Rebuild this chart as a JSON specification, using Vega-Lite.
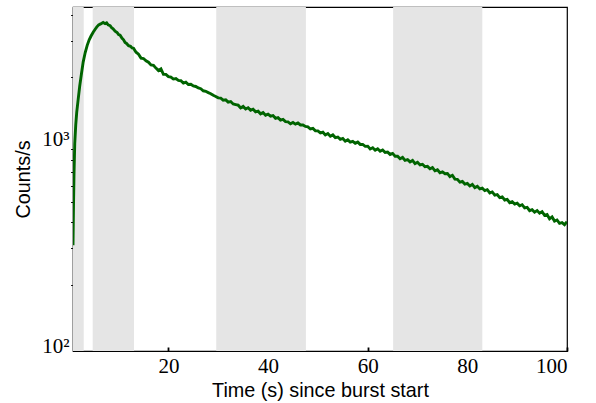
{
 "$schema": "https://vega.github.io/schema/vega-lite/v6.json",
 "width": 494, "height": 344,
 "autosize": {"type": "none"},
 "padding": {"left": 73, "top": 7, "right": 29, "bottom": 52},
 "background": "white",
 "config": {
  "view": {"stroke": "black", "strokeWidth": 1.2},
  "axis": {"grid": false, "domainColor": "black", "domainWidth": 1.2, "tickColor": "black", "labelColor": "black", "titleColor": "black"}
 },
 "datasets": {
  "bands": [
   {"start": 0, "end": 3.0},
   {"start": 4.8, "end": 13.1},
   {"start": 29.6, "end": 47.6},
   {"start": 65.1, "end": 83.0}
  ],
  "lc": [
   {"t":0.85,"c":310},{"t":0.95,"c":480},{"t":1.05,"c":680},{"t":1.2,"c":960},{"t":1.4,"c":1180},{"t":1.6,"c":1360},{"t":1.86,"c":1546},{"t":2.2,"c":1820},{"t":2.54,"c":2080},{"t":2.9,"c":2380},{"t":3.3,"c":2640},{"t":3.7,"c":2860},{"t":4.1,"c":3040},{"t":4.5,"c":3180},{"t":4.9,"c":3310},{"t":5.3,"c":3420},{"t":5.6,"c":3500},{"t":6.0,"c":3590},{"t":6.4,"c":3630},{"t":6.9,"c":3690},{"t":7.3,"c":3640},{"t":7.6,"c":3670},{"t":7.9,"c":3590},{"t":8.3,"c":3560},{"t":8.6,"c":3480},{"t":8.9,"c":3440},{"t":9.3,"c":3350},{"t":9.7,"c":3300},{"t":10.0,"c":3220},{"t":10.3,"c":3200},{"t":10.7,"c":3090},{"t":11.0,"c":3040},{"t":11.3,"c":2950},{"t":11.6,"c":2920},{"t":12.0,"c":2850},{"t":12.4,"c":2830},{"t":12.7,"c":2780},{"t":13.0,"c":2770},
   {"t":13.5,"c":2650},{"t":14.0,"c":2590},{"t":14.5,"c":2480},{"t":15.0,"c":2470},{"t":15.5,"c":2410},{"t":16.0,"c":2370},{"t":16.5,"c":2300},{"t":17.0,"c":2290},{"t":17.5,"c":2220},{"t":18.0,"c":2160},{"t":18.5,"c":2200},{"t":19.0,"c":2070},{"t":19.5,"c":2070},{"t":20.0,"c":2020},{"t":20.5,"c":2010},{"t":21.0,"c":1965},{"t":21.5,"c":1975},{"t":22.0,"c":1935},{"t":22.5,"c":1930},{"t":23.0,"c":1880},{"t":23.5,"c":1900},{"t":24.0,"c":1850},{"t":24.5,"c":1855},{"t":25.0,"c":1820},{"t":25.5,"c":1810},{"t":26.0,"c":1780},{"t":26.5,"c":1765},{"t":27.0,"c":1725},{"t":27.5,"c":1715},{"t":28.0,"c":1690},{"t":28.5,"c":1670},{"t":29.0,"c":1640},{"t":29.5,"c":1620},{"t":30.0,"c":1595},
   {"t":30.5,"c":1590},{"t":31.0,"c":1555},{"t":31.5,"c":1560},{"t":32.0,"c":1520},{"t":32.5,"c":1530},{"t":33.0,"c":1490},{"t":33.5,"c":1480},{"t":34.0,"c":1470},{"t":34.5,"c":1425},{"t":35.0,"c":1450},{"t":35.5,"c":1410},{"t":36.0,"c":1430},{"t":36.5,"c":1390},{"t":37.0,"c":1405},{"t":37.5,"c":1365},{"t":38.0,"c":1375},{"t":38.5,"c":1335},{"t":39.0,"c":1355},{"t":39.5,"c":1315},{"t":40.0,"c":1330},{"t":40.5,"c":1300},{"t":41.0,"c":1310},{"t":41.5,"c":1270},{"t":42.0,"c":1280},{"t":42.5,"c":1245},{"t":43.0,"c":1255},{"t":43.5,"c":1225},{"t":44.0,"c":1220},{"t":44.5,"c":1195},{"t":45.0,"c":1212},{"t":45.5,"c":1190},{"t":46.0,"c":1205},{"t":46.5,"c":1180},{"t":47.0,"c":1180},{"t":47.5,"c":1160},{"t":48.0,"c":1155},{"t":48.5,"c":1128},{"t":49.0,"c":1135},{"t":49.5,"c":1105},{"t":50.0,"c":1105},
   {"t":50.5,"c":1080},{"t":51.0,"c":1088},{"t":51.5,"c":1055},{"t":52.0,"c":1072},{"t":52.5,"c":1040},{"t":53.0,"c":1056},{"t":53.5,"c":1025},{"t":54.0,"c":1032},{"t":54.5,"c":1005},{"t":55.0,"c":1015},{"t":55.5,"c":985},{"t":56.0,"c":1000},{"t":56.5,"c":975},{"t":57.0,"c":984},{"t":57.5,"c":962},{"t":58.0,"c":975},{"t":58.5,"c":950},{"t":59.0,"c":950},{"t":59.5,"c":930},{"t":60.0,"c":932},{"t":60.5,"c":903},{"t":61.0,"c":915},{"t":61.5,"c":890},{"t":62.0,"c":905},{"t":62.5,"c":880},{"t":63.0,"c":893},{"t":63.5,"c":868},{"t":64.0,"c":872},{"t":64.5,"c":850},{"t":65.0,"c":860},{"t":65.5,"c":833},{"t":66.0,"c":834},{"t":66.5,"c":810},{"t":67.0,"c":822},{"t":67.5,"c":796},{"t":68.0,"c":802},{"t":68.5,"c":782},{"t":69.0,"c":795},{"t":69.5,"c":768},{"t":70.0,"c":779},
   {"t":70.5,"c":756},{"t":71.0,"c":762},{"t":71.5,"c":741},{"t":72.0,"c":744},{"t":72.5,"c":724},{"t":73.0,"c":734},{"t":73.5,"c":708},{"t":74.0,"c":716},{"t":74.5,"c":693},{"t":75.0,"c":700},{"t":75.5,"c":686},{"t":76.0,"c":688},{"t":76.5,"c":664},{"t":77.0,"c":674},{"t":77.5,"c":646},{"t":78.0,"c":644},{"t":78.5,"c":624},{"t":79.0,"c":629},{"t":79.5,"c":611},{"t":80.0,"c":616},{"t":80.5,"c":599},{"t":81.0,"c":609},{"t":81.5,"c":588},{"t":82.0,"c":596},{"t":82.5,"c":579},{"t":83.0,"c":584},{"t":83.5,"c":568},{"t":84.0,"c":574},{"t":84.5,"c":554},{"t":85.0,"c":560},{"t":85.5,"c":541},{"t":86.0,"c":544},{"t":86.5,"c":526},{"t":87.0,"c":530},{"t":87.5,"c":512},{"t":88.0,"c":516},{"t":88.5,"c":497},{"t":89.0,"c":502},{"t":89.5,"c":489},{"t":90.0,"c":494},
   {"t":90.5,"c":480},{"t":91.0,"c":486},{"t":91.5,"c":469},{"t":92.0,"c":472},{"t":92.5,"c":455},{"t":93.0,"c":460},{"t":93.5,"c":447},{"t":94.0,"c":455},{"t":94.5,"c":442},{"t":95.0,"c":450},{"t":95.5,"c":432},{"t":96.0,"c":436},{"t":96.5,"c":415},{"t":97.0,"c":424},{"t":97.5,"c":405},{"t":98.0,"c":410},{"t":98.5,"c":395},{"t":99.0,"c":398},{"t":99.5,"c":389},{"t":100.0,"c":402}
  ]
 },
 "encoding": {
  "x": {"type": "quantitative", "scale": {"domain": [0.85, 100], "nice": false, "zero": false},
   "axis": {"values": [20, 40, 60, 80, 100], "format": "d", "tickSize": -4, "tickWidth": 1.8, "labelPadding": 8,
    "labelFont": "Liberation Serif", "labelFontSize": 21, "title": "Time (s) since burst start",
    "titleFont": "Liberation Sans", "titleFontSize": 19.8, "titleFontWeight": "normal", "titlePadding": 4}}
 },
 "layer": [
  {
   "data": {"name": "bands"},
   "mark": {"type": "rect", "color": "#e5e5e5", "clip": true},
   "encoding": {
    "x": {"field": "start"},
    "x2": {"field": "end"}
   }
  },
  {
   "data": {"name": "lc"},
   "mark": {"type": "line", "color": "#006400", "strokeWidth": 2.9, "clip": true},
   "encoding": {
    "x": {"field": "t"},
    "y": {"field": "c", "type": "quantitative", "scale": {"type": "log", "domain": [95.5, 4380], "nice": false},
     "axis": {"values": [100, 1000], "tickSize": -4, "tickWidth": 1.8, "labelPadding": 8,
      "labelExpr": "datum.value == 100 ? '10²' : '10³'",
      "labelFont": "Liberation Serif", "labelFontSize": 21, "title": "Counts/s",
      "titleFont": "Liberation Sans", "titleFontSize": 19.8, "titleFontWeight": "normal", "titlePadding": 8}}
   }
  },
  {
   "data": {"name": "lc"},
   "mark": {"type": "line", "opacity": 0},
   "encoding": {
    "x": {"field": "t"},
    "y": {"field": "c", "type": "quantitative", "scale": {"type": "log", "domain": [95.5, 4380], "nice": false},
     "axis": {"orient": "left", "values": [200, 300, 400, 500, 600, 700, 800, 900, 2000, 3000, 4000], "labels": false, "domain": false, "tickSize": 2.5, "tickWidth": 0.9, "title": null}}
   }
  }
 ],
 "resolve": {"axis": {"y": "independent"}}
}
